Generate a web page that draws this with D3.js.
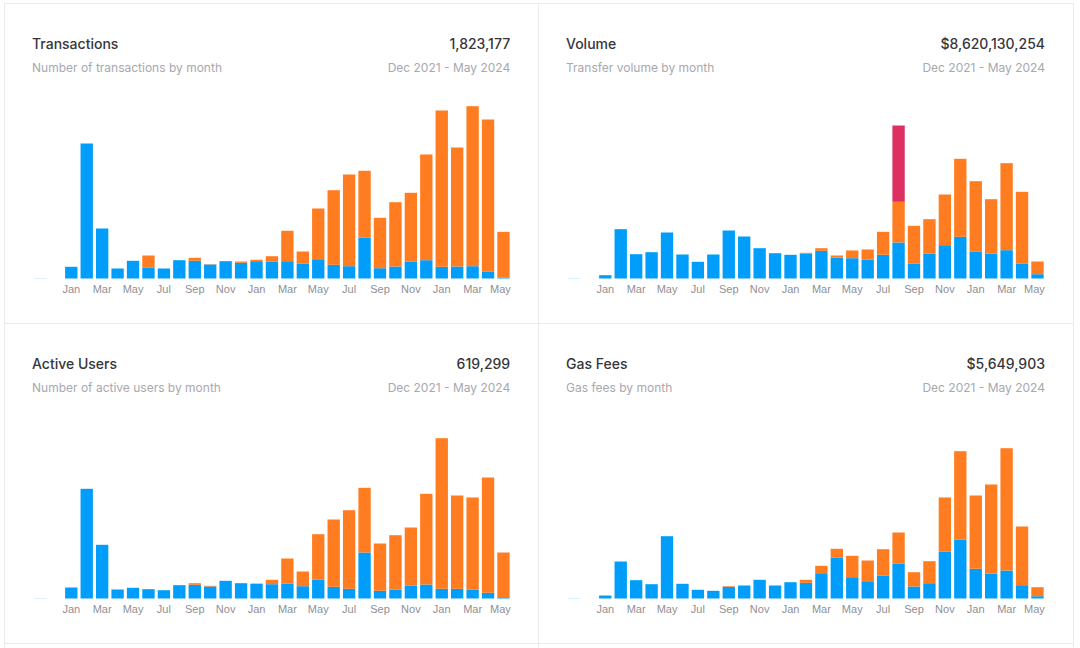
<!DOCTYPE html>
<html>
<head>
<meta charset="utf-8">
<script src="https://cdn.jsdelivr.net/npm/d3@7"></script>
<style>
  html, body { margin: 0; padding: 0; background: #fff; }
  svg { display: block; font-family: Inter, sans-serif; }
  .title { font-size: 14px; font-weight: 500; fill: #36363b; }
  .total { font-size: 14px; font-weight: 500; fill: #36363b; text-anchor: end; }
  .sub { font-size: 12px; fill: #a8a8b0; }
  .range { font-size: 12px; fill: #a8a8b0; text-anchor: end; }
  .tick text { font-size: 11px; fill: #8f8f96; }
</style>
</head>
<body>
<svg id="chart" width="1080" height="648"></svg>
<script>
// Months on the x axis, first slot is the nearly empty one before Dec 2021
const months = d3.timeMonth.range(new Date(2021, 10, 1), new Date(2024, 5, 1));
const tickMonths = months.filter((d, i) => i >= 2 && i % 2 === 0);

// Panel text
const titles = ["Transactions", "Volume", "Active Users", "Gas Fees"];
const totals = ["1,823,177", "$8,620,130,254", "619,299", "$5,649,903"];
const subtitles = ["Number of transactions by month", "Transfer volume by month", "Number of active users by month", "Gas fees by month"];
const dateRange = "Dec 2021 - May 2024";

const txBlue = [0.15,0,11.7,135,50,10,17.7,10.7,10,18.3,17.7,14,17.3,15.7,17.3,16.7,17.3,14.7,19.3,13.7,12.3,40.7,10.3,12,16.7,18.3,11.7,12,12.3,6.7,1];
const txOrange = [0,0,0,0,0,0,0,12.3,0,0,3,0.3,0,1.3,1.4,5.6,30.4,12.3,50.7,74.6,91.7,67,50.4,64.3,69,105.7,156.3,119,160,152.3,45.7];
const txRed = new Array(31).fill(0);

const volBlue = [0.15,0,3.3,49.3,24.3,26.3,46,24,16.7,24,48,42,30.3,25.3,23.7,24.7,27.7,21,20.3,19,23.7,36,14.7,24.7,33.3,41.7,26.7,25,28.3,14.7,4.3];
const volOrange = [0,0,0,0,0,0,0,0,0,0,0,0,0,0,0,1,2.6,2,7.7,10,23,40.7,38,34.6,50.7,78,70.6,54.3,87,72,12.7];
const volRed = [0,0,0,0,0,0,0,0,0,0,0,0,0,0,0,0,0,0,0,0,0,76.3,0,0,0,0,0,0,0,0,0];

const userBlue = [0.15,0,11,109.7,53.7,9,10.7,9.3,8.3,13.3,13.7,12,17.7,15.3,14.7,14.3,14.7,12.3,18.7,11.7,9.7,46,7.7,8.7,12.7,14,9.7,9.7,8.7,5.7,1.3];
const userOrange = [0,0,0,0,0,0,0,0,0,0,1.6,0.7,0,0,0.3,4.4,25.3,14.7,45.6,67.3,78.6,64.7,47.3,54.6,58.3,90.7,150.6,93.3,92.3,115.3,44.7];
const userRed = new Array(31).fill(0);

const gasBlue = [0.15,0,3,37,18.3,14.3,62.3,14.7,8.7,7.7,11.7,13,18.7,13,16.3,15.7,25.3,40.7,21.3,17.3,22.7,34.7,12,15.3,46.7,58.7,29.7,25,28,13.3,2.3];
const gasOrange = [0,0,0,0,0,0,0,0,0,0,0.6,0,0,0,0,3,7.4,9,21.4,20.7,26.6,31.3,14.3,22,54.3,88.6,73.3,89,122.3,58.7,9];
const gasRed = new Array(31).fill(0);

const blueSeries = [txBlue, volBlue, userBlue, gasBlue];
const orangeSeries = [txOrange, volOrange, userOrange, gasOrange];
const redSeries = [txRed, volRed, userRed, gasRed];

const colors = { blue: "#009efa", orange: "#ff7d20", red: "#dc3062" };
const keys = ["blue", "orange", "red"];

// Grid of the four cards
const gridX = [4.5, 538.5, 1073.5];
const gridY = [3.5, 323.5, 643.5];
const textRight = [510.2, 1045];
const borderColor = "#ebebed";

const svg = d3.select("#chart");

gridX.forEach(x => svg.append("line").attr("x1", x).attr("x2", x).attr("y1", 3).attr("y2", 648).attr("stroke", borderColor));
gridY.forEach(y => svg.append("line").attr("x1", 4).attr("x2", 1074).attr("y1", y).attr("y2", y).attr("stroke", borderColor));

titles.forEach((title, i) => {
  const col = i % 2, row = Math.floor(i / 2);
  const left = gridX[col] + 27.5;
  const right = gridX[col] + 506;
  const top = gridY[row];

  const g = svg.append("g");
  g.append("text").attr("class", "title").attr("x", left).attr("y", top + 45).text(title);
  g.append("text").attr("class", "total").attr("x", textRight[col]).attr("y", top + 45).text(totals[i]);
  g.append("text").attr("class", "sub").attr("x", left).attr("y", top + 68.5).text(subtitles[i]);
  g.append("text").attr("class", "range").attr("x", textRight[col]).attr("y", top + 68.5).text(dateRange);

  const x = d3.scaleBand().domain(months).range([left + 0.7, right + 0.7]).paddingInner(0.2).paddingOuter(0.1);
  const y = d3.scaleLinear().domain([0, 175]).range([top + 275, top + 100]);

  const rows = months.map((m, j) => ({ month: m, blue: blueSeries[i][j], orange: orangeSeries[i][j], red: redSeries[i][j] }));
  const stacked = d3.stack().keys(keys)(rows);

  g.selectAll("g.layer").data(stacked).join("g")
    .attr("class", "layer")
    .attr("fill", d => colors[d.key])
    .selectAll("rect").data(d => d.filter(p => p[1] > p[0])).join("rect")
    .attr("x", d => x(d.data.month))
    .attr("width", x.bandwidth())
    .attr("y", d => y(d[1]))
    .attr("height", d => y(d[0]) - y(d[1]));

  const axis = g.append("g")
    .attr("transform", `translate(0,${top + 275})`)
    .call(d3.axisBottom(x).tickValues(tickMonths).tickFormat(d3.timeFormat("%b")).tickSize(0).tickPadding(7));
  axis.select(".domain").remove();
  // the last label is pushed in so it stays inside the card
  axis.selectAll(".tick:last-of-type text").attr("dx", -3);
});
</script>
</body>
</html>
